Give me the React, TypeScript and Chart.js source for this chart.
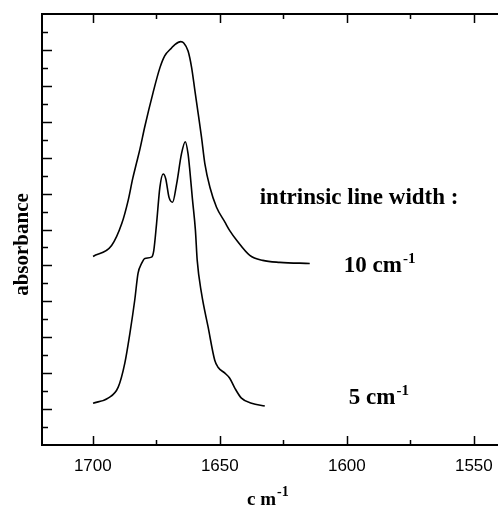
import React, { useEffect, useRef } from "react";
import { Chart, registerables } from "chart.js";

Chart.register(...registerables);

// ---- data ----
const wavenumber10 = [1699.9, 1692.6, 1688.6, 1686.1, 1684.3, 1682.8, 1681.5, 1679.5, 1676.3, 1673.6, 1671.7, 1669.0, 1667.7, 1665.4, 1664.2, 1662.5, 1661.1, 1659.8, 1658.5, 1657.2, 1655.9, 1653.9, 1651.3, 1648.0, 1646.1, 1643.3, 1638.2, 1633.1, 1626.4, 1614.6];
const absorbance10 = [10.5, 11.11, 12.33, 13.61, 14.83, 15.7, 16.45, 17.75, 19.61, 21.0, 21.67, 22.11, 22.3, 22.46, 22.39, 21.94, 21.02, 19.72, 18.44, 17.13, 15.67, 14.35, 13.24, 12.41, 11.94, 11.39, 10.56, 10.28, 10.17, 10.11];

const wavenumber5 = [1699.9, 1694.0, 1690.0, 1687.4, 1685.4, 1683.5, 1682.2, 1680.8, 1679.5, 1676.9, 1676.0, 1674.9, 1673.6, 1672.3, 1671.3, 1670.0, 1668.6, 1667.0, 1665.1, 1663.6, 1662.5, 1661.8, 1660.8, 1659.6, 1658.9, 1657.2, 1654.6, 1652.0, 1650.7, 1648.0, 1646.1, 1644.1, 1641.5, 1637.5, 1632.3];
const absorbance5 = [2.33, 2.61, 3.22, 4.56, 6.22, 8.06, 9.56, 10.11, 10.39, 10.46, 10.83, 12.33, 14.35, 15.09, 14.83, 13.79, 13.52, 14.54, 16.21, 16.89, 16.21, 15.28, 13.72, 11.94, 10.28, 8.44, 6.56, 4.72, 4.33, 4.0, 3.72, 3.17, 2.61, 2.33, 2.17];

const xTickValues = [1700, 1675, 1650, 1625, 1600, 1575, 1550];
const xTickLabels = [1700, 1650, 1600, 1550];
const yTickValues = [1, 2, 3, 4, 5, 6, 7, 8, 9, 10, 11, 12, 13, 14, 15, 16, 17, 18, 19, 20, 21, 22, 23];
const xMin = 1527.9;
const xMax = 1720;
const yMin = 0;
const yMax = 24;

const toPoints = (xs: number[], ys: number[]) => xs.map((x, i) => ({ x, y: ys[i] }));

const SERIF = "'Liberation Serif', 'Times New Roman', serif";

function drawSup(
  ctx: CanvasRenderingContext2D,
  base: string,
  sup: string,
  x: number,
  y: number,
  size: number,
  supSize: number,
  raise: number
) {
  ctx.font = `bold ${size}px ${SERIF}`;
  ctx.textAlign = "left";
  ctx.textBaseline = "alphabetic";
  ctx.fillText(base, x, y);
  const w = ctx.measureText(base).width;
  ctx.font = `bold ${supSize}px ${SERIF}`;
  ctx.fillText(sup, x + w + 1, y - raise);
}

const decorPlugin = {
  id: "decor",
  afterDraw(chart: any) {
    const { ctx, chartArea, scales } = chart;
    const xs = scales.x;
    const ys = scales.y;
    ctx.save();
    ctx.strokeStyle = "#000";
    ctx.fillStyle = "#000";
    ctx.lineWidth = 2;
    // top frame line
    ctx.beginPath();
    ctx.moveTo(chartArea.left - 1, chartArea.top);
    ctx.lineTo(chartArea.right, chartArea.top);
    ctx.stroke();
    // x ticks (inward), bottom and top
    ctx.lineWidth = 1.5;
    xTickValues.forEach((v) => {
      const px = Math.round(xs.getPixelForValue(v)) + 0.5;
      const len = v % 50 === 0 ? 9 : 5;
      ctx.beginPath();
      ctx.moveTo(px, chartArea.bottom);
      ctx.lineTo(px, chartArea.bottom - len);
      ctx.moveTo(px, chartArea.top);
      ctx.lineTo(px, chartArea.top + len);
      ctx.stroke();
    });
    // y ticks (inward)
    yTickValues.forEach((v) => {
      const py = Math.round(ys.getPixelForValue(v)) + 0.5;
      const len = v % 2 === 0 ? 10 : 6;
      ctx.beginPath();
      ctx.moveTo(chartArea.left, py);
      ctx.lineTo(chartArea.left + len, py);
      ctx.stroke();
    });

    // annotations
    ctx.font = `bold 23px ${SERIF}`;
    ctx.textAlign = "left";
    ctx.textBaseline = "alphabetic";
    ctx.fillText("intrinsic line width :", xs.getPixelForValue(1634.3), ys.getPixelForValue(13.44));
    drawSup(ctx, "10 cm", "-1", xs.getPixelForValue(1601.2), ys.getPixelForValue(9.61), 23, 15, 9);
    drawSup(ctx, "5 cm", "-1", xs.getPixelForValue(1599.2), ys.getPixelForValue(2.28), 23, 15, 9);

    // x axis title
    drawSup(ctx, "c m", "-1", chartArea.left + 205, 505, 19, 14, 9);

    // y axis title
    ctx.save();
    ctx.translate(28, (chartArea.top + chartArea.bottom) / 2 + 15);
    ctx.rotate(-Math.PI / 2);
    ctx.font = `bold 21px ${SERIF}`;
    ctx.textAlign = "center";
    ctx.textBaseline = "alphabetic";
    ctx.fillText("absorbance", 0, 0);
    ctx.restore();

    ctx.restore();
  },
};

export default function App() {
  const ref = useRef<HTMLCanvasElement | null>(null);
  useEffect(() => {
    if (!ref.current) return;
    const chart = new Chart(ref.current, {
      type: "line",
      data: {
        datasets: [
          {
            label: "10 cm-1",
            data: toPoints(wavenumber10, absorbance10),
            borderColor: "#000",
            borderWidth: 1.6,
            pointRadius: 0,
            fill: false,
            cubicInterpolationMode: "monotone",
          },
          {
            label: "5 cm-1",
            data: toPoints(wavenumber5, absorbance5),
            borderColor: "#000",
            borderWidth: 1.6,
            pointRadius: 0,
            fill: false,
            cubicInterpolationMode: "monotone",
          },
        ],
      },
      options: {
        animation: false,
        responsive: false,
        events: [],
        layout: { padding: { top: 14, right: 0, left: 0, bottom: 0 } },
        plugins: { legend: { display: false }, tooltip: { enabled: false }, title: { display: false } },
        scales: {
          x: {
            type: "linear",
            reverse: true,
            min: xMin,
            max: xMax,
            grid: { display: false, drawTicks: false },
            border: { display: true, color: "#000", width: 2 },
            afterBuildTicks: (s: any) => {
              s.ticks = xTickLabels.map((v) => ({ value: v }));
            },
            ticks: {
              autoSkip: false,
              maxRotation: 0,
              padding: 0,
              color: "#000",
              font: { family: "'Liberation Sans', Arial, sans-serif", size: 17, lineHeight: 2.55 },
              callback: (v: any) => String(Math.round(Number(v))),
            },
            afterFit: (s: any) => {
              s.height = 65;
            },
          },
          y: {
            type: "linear",
            min: yMin,
            max: yMax,
            grid: { display: false, drawTicks: false },
            border: { display: true, color: "#000", width: 2 },
            ticks: { stepSize: 1, display: false },
            afterFit: (s: any) => {
              s.width = 42;
            },
          },
        },
      },
      plugins: [decorPlugin],
    });
    return () => chart.destroy();
  }, []);
  return (
    <div style={{ position: "absolute", left: 0, top: 0, width: 498, height: 510, overflow: "hidden", background: "#fff" }}>
      <canvas ref={ref} width={530} height={510} style={{ display: "block" }} />
    </div>
  );
}
